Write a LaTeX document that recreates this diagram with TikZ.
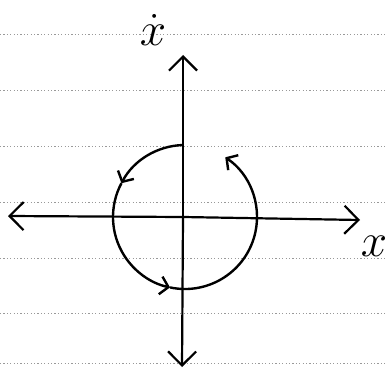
\documentclass[tikz,border=0pt]{standalone}
\usetikzlibrary{arrows.meta}
\begin{document}
\begin{tikzpicture}[x=1pt,y=1pt,
  rule/.style={draw=black!40,line width=0.6pt,dash pattern=on 1.2pt off 2.2pt},
  axis/.style={line width=2.2pt,-{Straight Barb[length=14pt,width=28pt,line width=2.2pt]}},
  orbit/.style={line width=2.4pt,-{Straight Barb[length=8pt,width=18pt,line width=2.4pt]}},
  lab/.style={font=\Huge,scale=1.9,inner sep=0pt}]
\useasboundingbox (0,0) rectangle (387,370);
% lined paper
\foreach \yy in {34,90,146,202,258,313,363}
  \draw[rule] (0,370-\yy) -- (387,370-\yy);
% axes
\coordinate (O) at (183,153);
\coordinate (ytop) at (183,315);
\coordinate (ybot) at (182,3);
\coordinate (xleft) at (8,154);
\coordinate (xright) at (360,150);
\draw[axis] (O) -- (ytop);
\draw[axis] (O) -- (ybot);
\draw[axis] (O) -- (xleft);
\draw[axis] (O) -- (xright);
% orbit (counterclockwise)
\coordinate (C) at (185,153);
\draw[orbit] ([shift={(92:72)}]C) arc[start angle=92,end angle=152,radius=72];
\draw[orbit] ([shift={(152:72)}]C) arc[start angle=152,end angle=258,radius=72];
\draw[orbit] ([shift={(258:72)}]C) arc[start angle=258,end angle=416,radius=72];
% labels
\node[lab] (ydot) at (153,340) {$\dot{x}$};
\node[lab] (xlab) at (374,124) {$x$};
\end{tikzpicture}
\end{document}
